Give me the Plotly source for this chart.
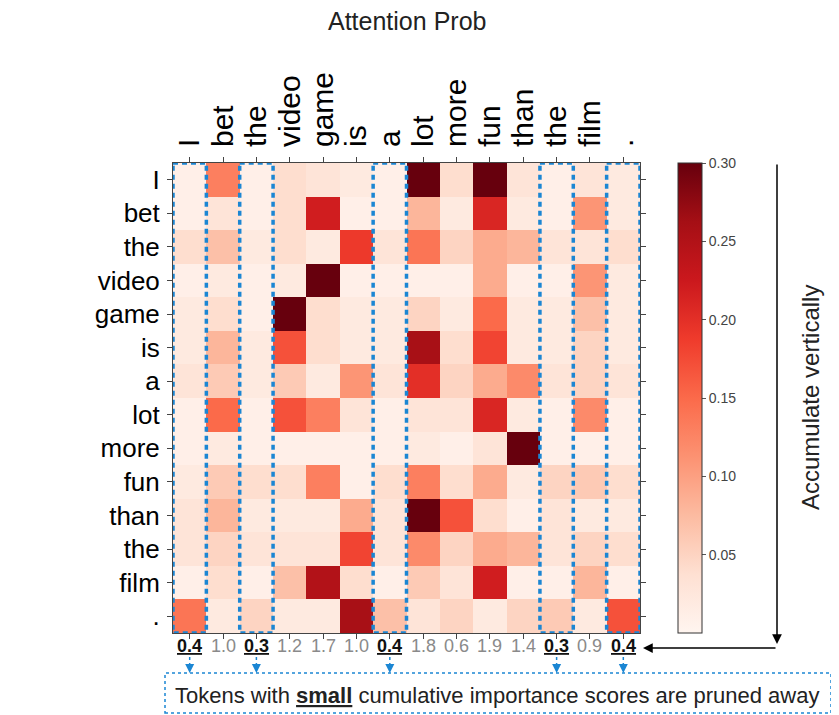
import plotly.graph_objects as go

tokens = ["I", "bet", "the", "video", "game", "is", "a", "lot", "more", "fun", "than", "the", "film", "."]

# attention probabilities (rows = query token, cols = key token)
row_I     = [0.01, 0.13, 0.01, 0.04, 0.03, 0.02, 0.01, 0.30, 0.04, 0.30, 0.03, 0.01, 0.03, 0.02]
row_bet   = [0.01, 0.03, 0.01, 0.04, 0.22, 0.01, 0.01, 0.08, 0.02, 0.21, 0.02, 0.01, 0.11, 0.02]
row_the1  = [0.04, 0.07, 0.02, 0.04, 0.02, 0.19, 0.03, 0.14, 0.05, 0.09, 0.08, 0.03, 0.03, 0.04]
row_video = [0.01, 0.02, 0.01, 0.02, 0.30, 0.01, 0.01, 0.01, 0.01, 0.09, 0.01, 0.01, 0.11, 0.02]
row_game  = [0.02, 0.04, 0.01, 0.30, 0.04, 0.02, 0.02, 0.05, 0.02, 0.15, 0.02, 0.02, 0.07, 0.02]
row_is    = [0.02, 0.08, 0.02, 0.17, 0.04, 0.02, 0.02, 0.26, 0.04, 0.18, 0.02, 0.02, 0.05, 0.02]
row_a     = [0.03, 0.06, 0.02, 0.06, 0.02, 0.11, 0.03, 0.20, 0.05, 0.09, 0.12, 0.03, 0.05, 0.03]
row_lot   = [0.01, 0.15, 0.01, 0.17, 0.13, 0.03, 0.01, 0.03, 0.03, 0.21, 0.02, 0.01, 0.12, 0.01]
row_more  = [0.01, 0.02, 0.01, 0.01, 0.01, 0.01, 0.01, 0.02, 0.01, 0.03, 0.30, 0.01, 0.01, 0.01]
row_fun   = [0.02, 0.06, 0.04, 0.04, 0.13, 0.01, 0.04, 0.13, 0.04, 0.09, 0.02, 0.05, 0.06, 0.04]
row_than  = [0.03, 0.08, 0.02, 0.02, 0.02, 0.09, 0.03, 0.30, 0.17, 0.04, 0.01, 0.03, 0.02, 0.02]
row_the2  = [0.03, 0.05, 0.03, 0.03, 0.03, 0.18, 0.03, 0.12, 0.05, 0.09, 0.08, 0.03, 0.05, 0.04]
row_film  = [0.01, 0.04, 0.01, 0.07, 0.25, 0.04, 0.01, 0.06, 0.03, 0.22, 0.01, 0.01, 0.08, 0.01]
row_dot   = [0.14, 0.02, 0.05, 0.02, 0.02, 0.26, 0.07, 0.03, 0.05, 0.02, 0.05, 0.06, 0.02, 0.17]

# cumulative importance scores shown under each column
scores = [0.4, 1.0, 0.3, 1.2, 1.7, 1.0, 0.4, 1.8, 0.6, 1.9, 1.4, 0.3, 0.9, 0.4]
prune_threshold = 0.4

z = [row_I, row_bet, row_the1, row_video, row_game, row_is, row_a, row_lot,
     row_more, row_fun, row_than, row_the2, row_film, row_dot]

W, H = 839, 715
OFF = 8  # page body margin offset
FONT = "Liberation Sans, Arial, sans-serif"
BLUE = "#1b86d3"


def pxx(p):
    return (p - OFF) / W


def py(p):
    return 1 - (p - OFF) / H


px_l, px_r, px_t, px_b = 173, 640, 163, 633
xd = [pxx(px_l), pxx(px_r)]
yd = [py(px_b), py(px_t)]

n = len(tokens)
idx = list(range(n))

fig = go.Figure()
fig.add_trace(go.Heatmap(
    z=z, x=idx, y=idx, colorscale="Reds", zmin=0, zmax=0.3,
    showscale=True,
    colorbar=dict(
        x=pxx(678), xanchor="left", y=(yd[0] + yd[1]) / 2, yanchor="middle",
        xpad=0, ypad=0,
        thickness=24, thicknessmode="pixels", len=px_b - px_t, lenmode="pixels",
        outlinecolor="#333", outlinewidth=1,
        tickvals=[0.05, 0.10, 0.15, 0.20, 0.25, 0.30], tickformat=".2f",
        ticks="outside", ticklen=4, tickcolor="#555",
        tickfont=dict(family=FONT, size=14, color="#444"),
    ),
    hovertemplate="%{z}<extra></extra>",
))

fig.update_layout(
    width=W, height=H,
    margin=dict(l=0, r=0, t=0, b=0),
    paper_bgcolor="white", plot_bgcolor="white",
    font=dict(family=FONT),
    showlegend=False,
    xaxis=dict(
        domain=xd, side="top", tickmode="array", tickvals=idx, ticktext=tokens,
        tickangle=-90, tickfont=dict(family=FONT, size=30, color="black"),
        range=[-0.5, n - 0.5], showgrid=False, zeroline=False,
        showline=True, linecolor="#444", linewidth=1, mirror="ticks",
        ticks="outside", ticklen=5, tickcolor="#444", automargin=False,
        ticklabelstandoff=4,
    ),
    yaxis=dict(
        domain=yd, tickmode="array", tickvals=idx, ticktext=tokens,
        tickfont=dict(family=FONT, size=26, color="black"),
        range=[n - 0.5, -0.5], showgrid=False, zeroline=False,
        showline=True, linecolor="#444", linewidth=1, mirror="ticks",
        ticks="outside", ticklen=5, tickcolor="#444", automargin=False,
        ticklabelstandoff=2,
    ),
)

shapes = []
annotations = []

# title
annotations.append(dict(text="Attention Prob", xref="paper", yref="paper",
                        x=pxx(407), y=py(21), xanchor="center", yanchor="middle",
                        showarrow=False,
                        font=dict(family=FONT, size=25, color="#222")))

# dashed boxes around pruned columns + scores row
for i, s in enumerate(scores):
    pruned = s <= prune_threshold
    if pruned:
        shapes.append(dict(type="rect", xref="x", yref="y",
                           x0=i - 0.5, x1=i + 0.5, y0=-0.5, y1=n - 0.5,
                           line=dict(color=BLUE, width=3.5, dash="5px,4px"),
                           fillcolor="rgba(0,0,0,0)", layer="above"))
        label = f"<b><u>{s:.1f}</u></b>"
        color = "#111"
        shapes.append(dict(type="line", xref="x", yref="paper",
                           x0=i, x1=i, y0=py(657), y1=py(668),
                           line=dict(color=BLUE, width=1.5, dash="dot")))
        annotations.append(dict(text="", xref="x", yref="paper", x=i, y=py(673),
                                ax=0, ay=-6, showarrow=True, arrowhead=2,
                                arrowsize=1.2, arrowwidth=1.5, arrowcolor=BLUE))
    else:
        label = f"{s:.1f}"
        color = "#8a8a8a"
    annotations.append(dict(text=label, xref="x", yref="paper", x=i, y=py(646),
                            xanchor="center", yanchor="middle", showarrow=False,
                            font=dict(family=FONT, size=18, color=color)))

# bottom dotted box with explanation
shapes.append(dict(type="rect", xref="paper", yref="paper",
                   x0=pxx(165), x1=pxx(831), y0=py(713), y1=py(673),
                   line=dict(color=BLUE, width=1.5, dash="dot"),
                   fillcolor="rgba(0,0,0,0)"))
annotations.append(dict(
    text="Tokens with <b><u>small</u></b> cumulative importance scores are pruned away",
    xref="paper", yref="paper", x=pxx(497), y=py(695), xanchor="center",
    yanchor="middle", showarrow=False,
    font=dict(family=FONT, size=22, color="#222")))

# accumulate arrows
annotations.append(dict(text="", xref="paper", yref="paper",
                        x=pxx(777), y=py(644), ax=0, ay=-(644 - 163),
                        showarrow=True, arrowhead=2, arrowsize=1.3,
                        arrowwidth=1.5, arrowcolor="black"))
annotations.append(dict(text="", xref="paper", yref="paper",
                        x=pxx(643), y=py(648), ax=777 - 643, ay=0,
                        showarrow=True, arrowhead=2, arrowsize=1.3,
                        arrowwidth=1.5, arrowcolor="black"))
annotations.append(dict(text="Accumulate vertically", xref="paper", yref="paper",
                        x=pxx(811), y=py(398), xanchor="center", yanchor="middle",
                        showarrow=False, textangle=-90,
                        font=dict(family=FONT, size=24, color="#222")))

fig.update_layout(shapes=shapes, annotations=annotations)
fig.write_html("out.html")
